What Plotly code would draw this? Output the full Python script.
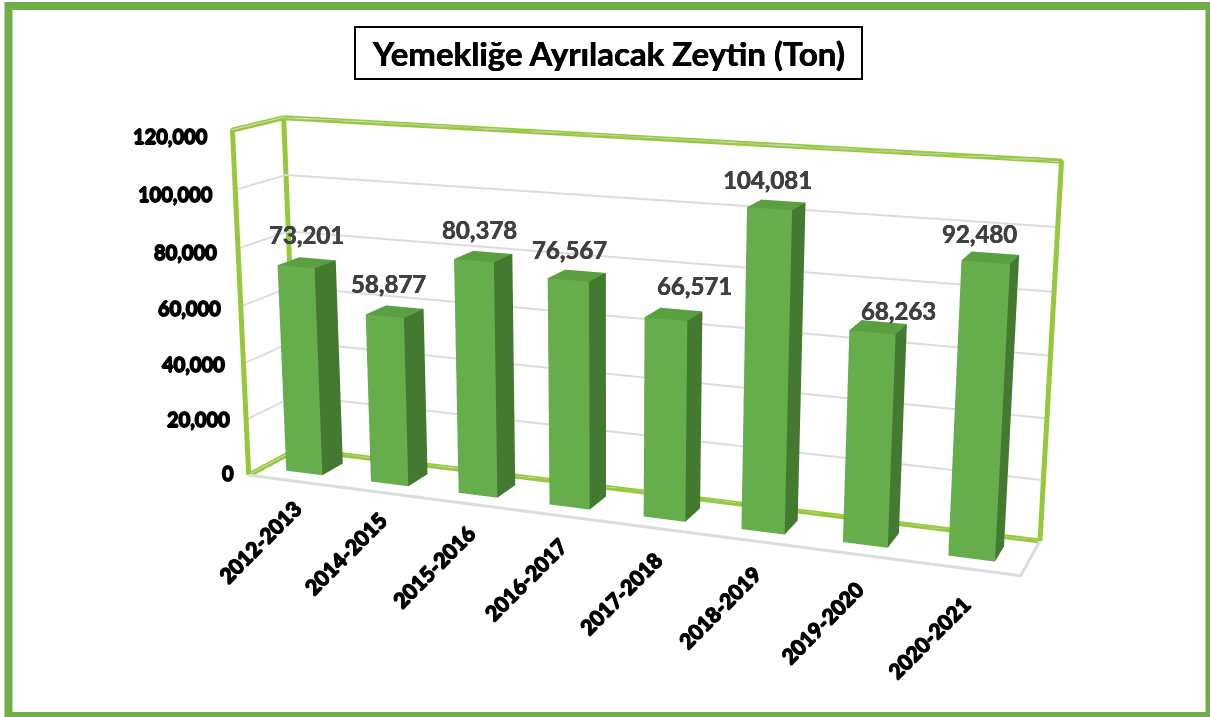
import plotly.graph_objects as go

categories = ["2012-2013","2014-2015","2015-2016","2016-2017","2017-2018","2018-2019","2019-2020","2020-2021"]
values = [73201,58877,80378,76567,66571,104081,68263,92480]
value_ticks = [0,20000,40000,60000,80000,100000,120000]
TITLE = "Yemekliğe Ayrılacak Zeytin (Ton)"

# pixel nudges of the value labels (hand placed in the original)
label_dx = [0,-6,-4,-7,21,-9,20,-11]
label_dy = [4,4,2,2,4,1,-8,0]

W,H = 1210,717
# A tall scene gives the long lens of the original: it is centred on the visible window.
FIG_H = 1657
PAGE_TOP = 470
def px(x): return x/W
def py(y): return 1-(y+PAGE_TOP)/FIG_H

EYE = dict(x=1.6978,y=-4.3883,z=1.1403)
CENTER = dict(x=-0.0387,y=-0.0333,z=-0.0674)
UP = dict(x=0.0007,y=0,z=1)
ASPECT = dict(x=2,y=0.2477,z=0.9)

CAT_N=len(categories); Z_MAX=value_ticks[-1]
BAR_W=0.43; Y0,Y1=0.28,0.72
FRONT,SIDE,TOP_C="#65AE4B","#437A30","#5AA043"
WALL="#96C83C"; GRID="#dcdcdc"

fig=go.Figure()
for i,(c_,v) in enumerate(zip(categories,values)):
    x0,x1=i+.5-BAR_W/2,i+.5+BAR_W/2
    xs=[x0,x1,x1,x0,x0,x1,x1,x0]; ys=[Y0,Y0,Y1,Y1,Y0,Y0,Y1,Y1]; zs=[0,0,0,0,v,v,v,v]
    I=[0,0,1,1,4,4,0,0,3,3,2,2]; J=[1,5,2,6,5,6,3,7,2,6,3,7]; K=[5,4,6,5,6,7,7,4,6,7,7,6]
    fc=[FRONT,FRONT,SIDE,SIDE,TOP_C,TOP_C,SIDE,SIDE,SIDE,SIDE,SIDE,SIDE]
    fig.add_trace(go.Mesh3d(x=xs,y=ys,z=zs,i=I,j=J,k=K,facecolor=fc,flatshading=True,name=c_,
        lighting=dict(ambient=1,diffuse=0,specular=0,fresnel=0,roughness=1),hoverinfo="skip"))
fig.add_trace(go.Scatter3d(x=[0,0,0,0,0,None,0,CAT_N,CAT_N,None,0,CAT_N],
    y=[0,0,1,1,0,None,1,1,1,None,1,1],
    z=[0,Z_MAX,Z_MAX,0,0,None,Z_MAX,Z_MAX,0,None,0,0],
    mode="lines",line=dict(color=WALL,width=10),hoverinfo="skip"))
fig.add_trace(go.Scatter3d(x=[0,CAT_N,CAT_N],y=[0,0,1],z=[0,0,0],mode="lines",
    line=dict(color=GRID,width=6),hoverinfo="skip"))

SH="0.8px 0 0 black,-0.8px 0 0 black,0 0.8px 0 black,0 -0.8px 0 black"
SH2="0.3px 0 0 #404040,-0.3px 0 0 #404040"
SH3="0.3px 0 0 black,-0.3px 0 0 black"
ann=[]
for t in value_ticks:
    ann.append(dict(x=0,y=0,z=t,text=f"{t:,}",showarrow=False,xanchor="right",yanchor="middle",
        xshift=-13-9*t/Z_MAX,yshift=2-8*t/Z_MAX,
        font=dict(family="Lato",size=20,color="black",weight=700,shadow=SH)))
for i,c_ in enumerate(categories):
    ann.append(dict(x=i+.5,y=0,z=0,text=c_,showarrow=False,textangle=-45,xanchor="right",yanchor="top",
        xshift=18-6*i/7,yshift=-12-8*i/7,
        font=dict(family="Lato",size=21,color="black",weight=700,shadow=SH)))
for i,v in enumerate(values):
    ann.append(dict(x=i+.5,y=.5,z=v,text=f"{v:,}",showarrow=False,xanchor="center",yanchor="bottom",
        xshift=label_dx[i],yshift=8+label_dy[i],
        font=dict(family="Lato",size=24,color="#404040",weight=700,shadow=SH2)))

hidden=dict(visible=True,showbackground=False,showgrid=False,showticklabels=False,showline=False,zeroline=False,
    showspikes=False,title=dict(text=""),ticks="")
fig.update_layout(width=W,height=FIG_H,margin=dict(l=0,r=0,t=0,b=0),paper_bgcolor="white",showlegend=False,
    scene=dict(domain=dict(x=[0,1],y=[0,1]),dragmode="orbit",
        xaxis=dict(hidden,range=[0,CAT_N]),yaxis=dict(hidden,range=[0,1]),
        zaxis=dict(hidden,range=[0,Z_MAX],showgrid=True,gridcolor=GRID,gridwidth=4,tickvals=value_ticks),
        aspectmode="manual",aspectratio=ASPECT,
        camera=dict(eye=EYE,center=CENTER,up=UP,projection=dict(type="perspective")),
        annotations=ann),
    shapes=[dict(type="rect",xref="paper",yref="paper",x0=px(8.5),x1=px(1209.5),y0=py(716),y1=py(6),line=dict(color="#70AD47",width=8))],
    annotations=[dict(xref="paper",yref="paper",x=px(608),y=py(53),xanchor="center",yanchor="middle",text=TITLE,showarrow=False,bgcolor="white",
        bordercolor="black",borderwidth=2,width=503,height=48,font=dict(family="Lato",size=33,color="black",weight=700,shadow=SH3))])
fig.write_html("out.html",config=dict(displayModeBar=False),
    post_script=f"document.documentElement.style.overflow='hidden';document.body.style.margin='0';document.body.style.overflow='hidden';document.body.style.height='{H}px';document.body.firstElementChild.style.marginTop='-{PAGE_TOP}px';")
